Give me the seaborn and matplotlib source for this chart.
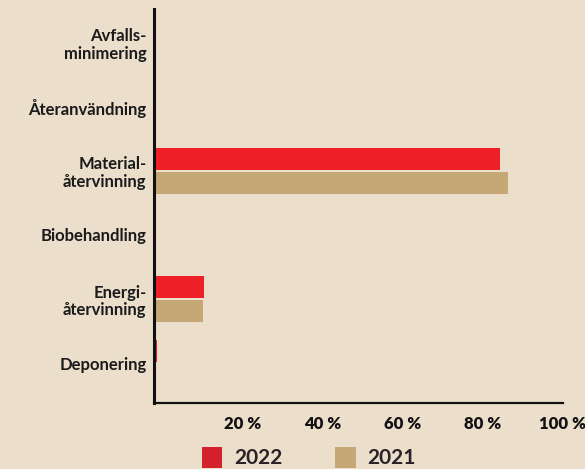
import pandas as pd
import matplotlib
matplotlib.use('Agg')
import matplotlib.pyplot as plt
import matplotlib.transforms as mtransforms
import seaborn as sns

categories = ['Avfalls-\nminimering', 'Återanvändning', 'Material-\nåtervinning',
              'Biobehandling', 'Energi-\nåtervinning', 'Deponering']
values_2022 = [0, 0, 86.3, 0, 12.3, 0.7]
values_2021 = [0, 0, 88.2, 0, 12.0, 0]
years = ['2022', '2021']
xticks = [20, 40, 60, 80, 100]
xtick_labels = ['20 %', '40 %', '60 %', '80 %', '100 %']

df = pd.DataFrame({
    'Kategori': categories * 2,
    'Andel': values_2022 + values_2021,
    'År': [years[0]] * len(categories) + [years[1]] * len(categories),
})

bg = '#ebdfcc'
palette = {'2022': '#ee1f26', '2021': '#c5a876'}

sns.set_style('white')
plt.rcParams['font.family'] = ['Lato', 'DejaVu Sans']

fig = plt.figure(figsize=(5.85, 4.69), dpi=100, facecolor=bg)
ax = fig.add_axes([0.2624, 0.1407, 0.70, 0.840])
ax.set_facecolor(bg)

sns.barplot(data=df, x='Andel', y='Kategori', hue='År', order=categories,
            hue_order=years, palette=palette, width=0.75, gap=0.08,
            orient='h', ax=ax, legend=True, saturation=1, linewidth=0)

ax.set_xlim(-0.25, 101.9)
ax.set_ylim(5.625, -0.53)
ax.set_xlabel('')
ax.set_ylabel('')

for side in ['top', 'right']:
    ax.spines[side].set_visible(False)
ax.spines['left'].set_linewidth(2.2)
ax.spines['bottom'].set_linewidth(1.6)
ax.spines['left'].set_color('#111111')
ax.spines['bottom'].set_color('#111111')

ax.set_xticks(xticks)
ax.set_xticklabels(xtick_labels, fontsize=12, fontweight='heavy', color='#111111')
ax.tick_params(axis='x', direction='in', length=8.5, width=1.5, pad=9, color='#111111')
offset = mtransforms.ScaledTranslation(7.5 / 100, 0, fig.dpi_scale_trans)
for lbl in ax.get_xticklabels():
    lbl.set_transform(lbl.get_transform() + offset)

ax.tick_params(axis='y', length=0, pad=5)
for lbl in ax.get_yticklabels():
    lbl.set_fontsize(12)
    lbl.set_fontweight('bold')
    lbl.set_color('#1a1a1a')
    lbl.set_linespacing(1.1)

handles, labels = ax.get_legend_handles_labels()
ax.get_legend().remove()
handles[0].set_facecolor('#d3222b')
fig.legend(handles, labels, loc='center', bbox_to_anchor=(0.528, 0.024), ncol=2,
           frameon=False, handlelength=1.0, handleheight=1.15, handletextpad=0.55,
           columnspacing=2.55, borderpad=0,
           prop={'size': 15, 'weight': 'bold'}, labelcolor='#2a2226')

fig.savefig('out.png', dpi=100, facecolor=bg)
